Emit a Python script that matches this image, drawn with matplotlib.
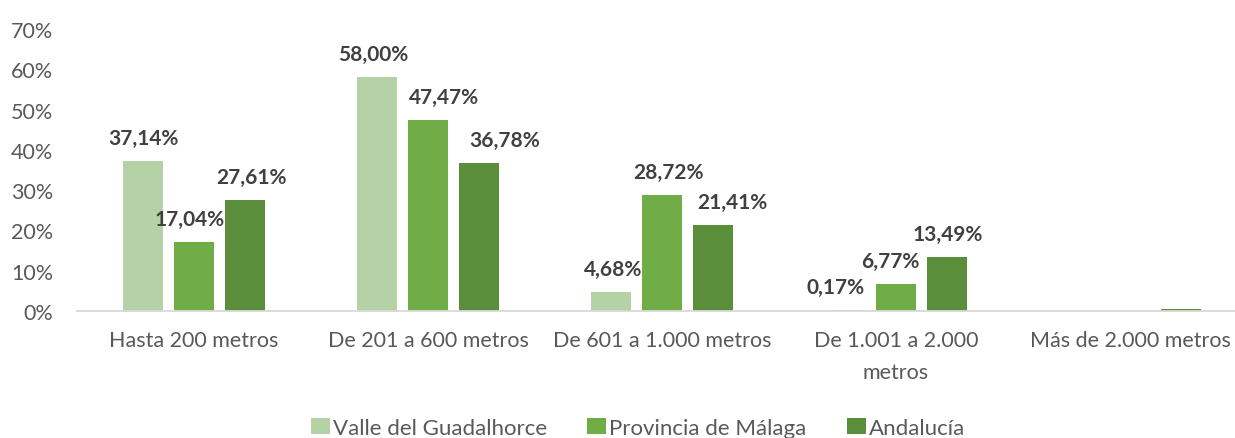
import numpy as np
import matplotlib.pyplot as plt

plt.rcParams['font.family'] = ['Lato', 'DejaVu Sans']

# datos
categorias = ['Hasta 200 metros', 'De 201 a 600 metros', 'De 601 a 1.000 metros',
              'De 1.001 a 2.000\nmetros', 'Más de 2.000 metros']
valle = [37.14, 58.00, 4.68, 0.17, 0.0]
provincia = [17.04, 47.47, 28.72, 6.77, 0.0]
andalucia = [27.61, 36.78, 21.41, 13.49, 0.55]
series = ['Valle del Guadalhorce', 'Provincia de Málaga', 'Andalucía']
colores = ['#b5d2a7', '#70ad47', '#5b8e3a']

# desplazamiento horizontal de etiquetas (px), None = sin etiqueta
label_dx = [[0, -4, 6], [-4, 16, 26], [2, 7, 19], [-9, -6, 1], [None, None, None]]

fig = plt.figure(figsize=(12.35, 4.39), dpi=100)
W, H = 1235, 439
ax = fig.add_axes([77 / W, (H - 312) / H, 1170 / W, 282 / H])

x = np.arange(len(categorias))
w = 0.175
step = 0.218
for i, (vals, nombre, c) in enumerate(zip([valle, provincia, andalucia], series, colores)):
    xs = x + (i - 1) * step
    ax.bar(xs, vals, width=w, color=c, label=nombre)
    for j, v in enumerate(vals):
        dx = label_dx[j][i]
        if dx is None:
            continue
        ax.annotate(f'{v:.2f}%'.replace('.', ','), (xs[j], v),
                    xytext=(dx, 23), textcoords='offset pixels',
                    ha='center', va='center', fontsize=15, fontweight='bold',
                    color='#404040')

ax.set_xlim(-0.5, len(categorias) - 0.5)
ax.set_ylim(0, 70)
ax.set_yticks(range(0, 71, 10))
ax.set_yticklabels([f'{t}%' for t in range(0, 71, 10)])
ax.set_xticks(x)
ax.set_xticklabels(categorias, linespacing=1.7)
for s in ['top', 'right', 'left']:
    ax.spines[s].set_visible(False)
ax.spines['bottom'].set_color('#d9d9d9')
ax.spines['bottom'].set_linewidth(1.3)
ax.tick_params(axis='both', length=0, labelsize=15.5, colors='#595959')
ax.tick_params(axis='x', pad=14)
ax.tick_params(axis='y', pad=17)

fig.legend(loc='center', bbox_to_anchor=(638 / W, 1 - 429 / H), ncol=3,
           frameon=False, fontsize=16, handlelength=0.85, handleheight=0.75,
           handletextpad=0.15, columnspacing=1.8, labelcolor='#595959')

fig.savefig('out.png', dpi=100)
